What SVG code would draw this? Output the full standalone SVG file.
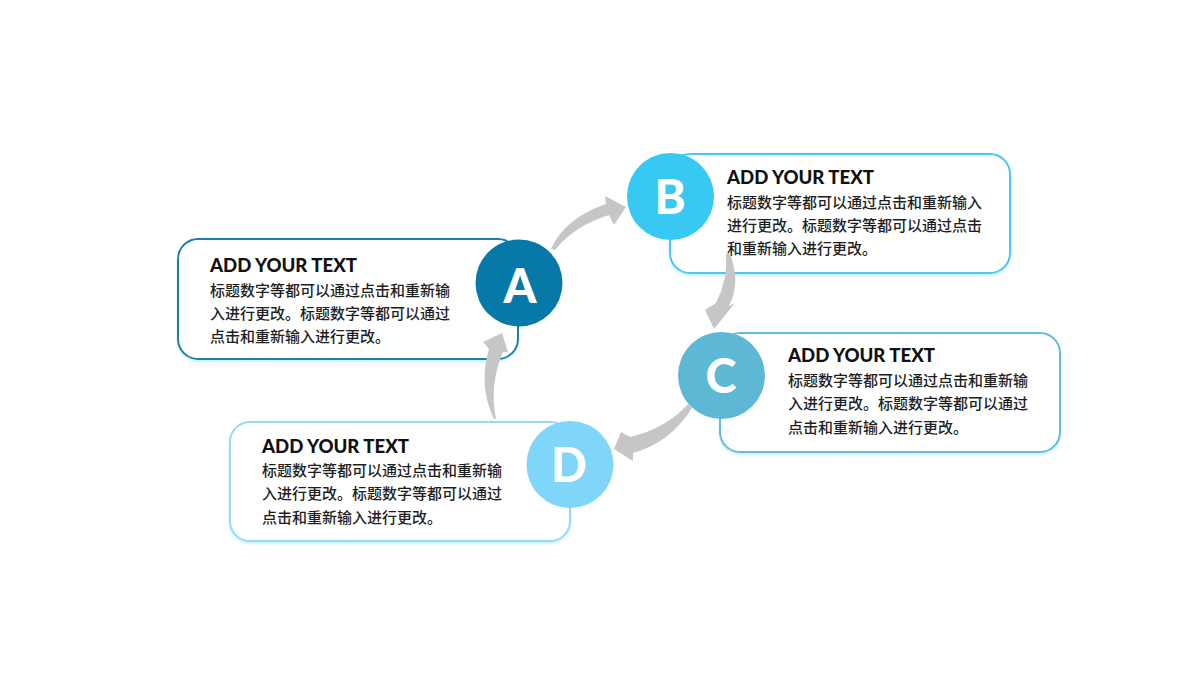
<svg xmlns="http://www.w3.org/2000/svg" width="1200" height="675" viewBox="0 0 1200 675">
<defs>
<style>
.box{fill:#FFFFFF;stroke-width:2}
.ttl{font-family:Lato,"Liberation Sans","Noto Sans CJK SC",sans-serif;font-weight:900;font-size:19px;fill:#111111}
.body{font-family:"Noto Sans CJK SC","Noto Sans",sans-serif;font-weight:500;font-size:15px;fill:#1E1E1E}
.ltr{font-family:Lato,"Liberation Sans",sans-serif;font-weight:900;font-size:47px;fill:#FFFFFF;text-anchor:middle}
.arr{fill:#C6C6C6}
</style>
<filter id="sh" x="-5%" y="-5%" width="110%" height="115%">
<feDropShadow dx="0" dy="2" stdDeviation="1" flood-color="#BFEFFB" flood-opacity="0.8"/>
</filter>
</defs>
<rect width="1200" height="675" fill="#FFFFFF"/>

<g id="box-a">
<rect class="box" x="178" y="239" width="340" height="120" rx="20" stroke="#1A7DA6" filter="url(#sh)"/>
<text class="ttl" x="210" y="272" textLength="147" lengthAdjust="spacingAndGlyphs">ADD YOUR TEXT</text>
<text class="body" x="210" y="296">标题数字等都可以通过点击和重新输</text>
<text class="body" x="210" y="319">入进行更改。标题数字等都可以通过</text>
<text class="body" x="210" y="342">点击和重新输入进行更改。</text>
</g>
<g id="box-b">
<rect class="box" x="670" y="154" width="340" height="119" rx="20" stroke="#4CC6EE" filter="url(#sh)"/>
<text class="ttl" x="727" y="184" textLength="147" lengthAdjust="spacingAndGlyphs">ADD YOUR TEXT</text>
<text class="body" x="727" y="208">标题数字等都可以通过点击和重新输入</text>
<text class="body" x="727" y="231">进行更改。标题数字等都可以通过点击</text>
<text class="body" x="727" y="254">和重新输入进行更改。</text>
</g>
<g id="box-c">
<rect class="box" x="720" y="333" width="340" height="119" rx="20" stroke="#66BBDA" filter="url(#sh)"/>
<text class="ttl" x="788" y="362" textLength="147" lengthAdjust="spacingAndGlyphs">ADD YOUR TEXT</text>
<text class="body" x="788" y="386">标题数字等都可以通过点击和重新输</text>
<text class="body" x="788" y="409">入进行更改。标题数字等都可以通过</text>
<text class="body" x="788" y="433">点击和重新输入进行更改。</text>
</g>
<g id="box-d">
<rect class="box" x="230" y="422" width="340" height="119" rx="20" stroke="#96DAF5" filter="url(#sh)"/>
<text class="ttl" x="262" y="453" textLength="147" lengthAdjust="spacingAndGlyphs">ADD YOUR TEXT</text>
<text class="body" x="262" y="476">标题数字等都可以通过点击和重新输</text>
<text class="body" x="262" y="499">入进行更改。标题数字等都可以通过</text>
<text class="body" x="262" y="523">点击和重新输入进行更改。</text>
</g>

<g id="connectors">
<path class="arr" d="M551,249 Q565,218 606,204 L605,196 L626,207 L614,225 L609,215 Q574,226 555,250 Z"/>
<path class="arr" d="M726,254 L730,254 Q741,282 729,306 L735,303 L714,329 L705,310 L716,303 Q728,280 726,254 Z"/>
<path class="arr" d="M688,404 L692,408 Q670,443 633,453 L633,461 L614,449 L621,432 L630,437 Q667,428 688,404 Z"/>
<path class="arr" d="M494,419 L496,419 Q489,384 503,352 L508,352 L502,333 L483,342 L489,349 Q478,386 494,419 Z"/>
</g>

<g id="node-a">
<circle cx="519" cy="283" r="43.5" fill="#0779A8"/>
<text class="ltr" x="520" y="303">A</text>
</g>
<g id="node-b">
<circle cx="670.5" cy="196.5" r="43.5" fill="#38C8F4"/>
<text class="ltr" x="670" y="214">B</text>
</g>
<g id="node-c">
<circle cx="721.5" cy="375.5" r="43.5" fill="#5DB8D6"/>
<text class="ltr" x="721" y="393">C</text>
</g>
<g id="node-d">
<circle cx="570" cy="464.5" r="43.5" fill="#7FD6F8"/>
<text class="ltr" x="569" y="482">D</text>
</g>
</svg>
